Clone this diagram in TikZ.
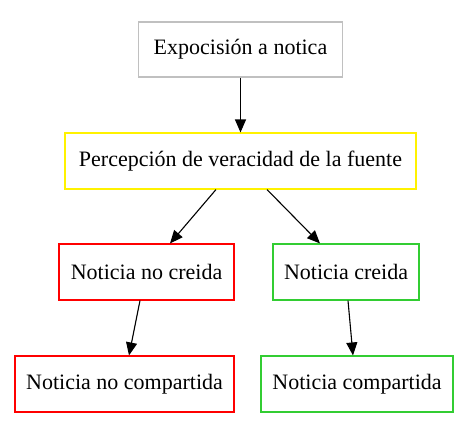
\documentclass[tikz,border=0pt]{standalone}
\usepackage{fontspec}
\setmainfont{Liberation Serif}
\usepackage{xcolor}
\usepackage{tikz}
\usetikzlibrary{arrows.meta}

\definecolor{boxgray}{HTML}{C0C0C0}
\definecolor{boxgreen}{HTML}{32CD32}

\tikzset{
  caja/.style={draw, line width=1.1pt, minimum height=56pt, inner sep=0pt,
               font=\fontsize{22}{26}\selectfont},
  flecha/.style={line width=1.1pt, -{Triangle[length=13pt,width=11pt]}}
}

\begin{document}
\begin{tikzpicture}[x=1pt, y=-1pt]

                \useasboundingbox (0,0) rectangle (474,442);

                \node [caja, draw=boxgray, minimum width=204pt, minimum height=55pt] (expo) at (240.5,49.5) {Expocisión a notica};
                \node [caja, draw=yellow, minimum width=351pt] (perc) at (240.5,161) {Percepción de veracidad de la fuente};
                \node [caja, draw=red, minimum width=175pt] (nocreida) at (146.5,272) {Noticia no creida};
                \node [caja, draw=boxgreen, minimum width=146pt] (creida) at (346,272) {Noticia creida};
                \node [caja, draw=red, minimum width=219pt] (nocomp) at (124.5,384) {Noticia no compartida};
                \node [caja, draw=boxgreen, minimum width=192pt] (comp) at (357,384) {Noticia compartida};

                \draw [flecha] (expo.south) -- (perc.north);
                \draw [flecha] ([xshift=-24.5pt]perc.south) -- ([xshift=23.5pt]nocreida.north);
                \draw [flecha] ([xshift=26.5pt]perc.south) -- ([xshift=-26pt]creida.north);
                \draw [flecha] ([xshift=-6.5pt]nocreida.south) -- ([xshift=4.5pt]nocomp.north);
                \draw [flecha] ([xshift=2pt]creida.south) -- ([xshift=-4pt]comp.north);

              \end{tikzpicture}
\end{document}
